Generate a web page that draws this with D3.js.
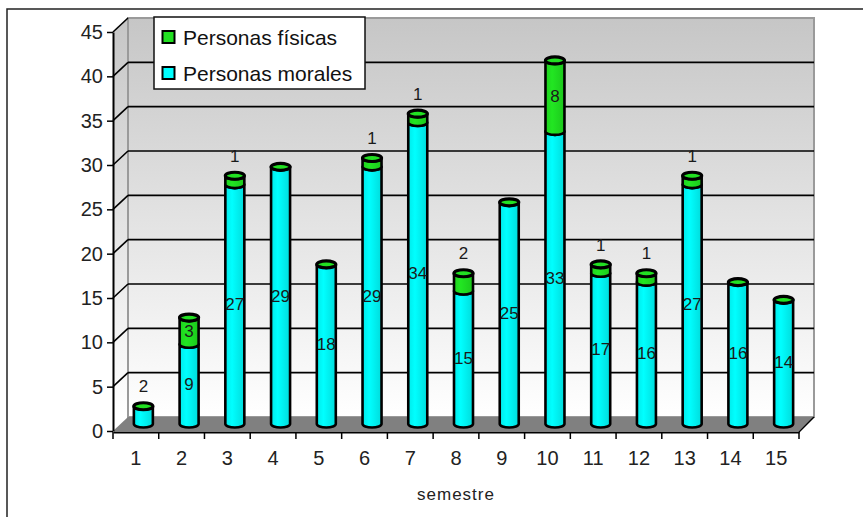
<!DOCTYPE html>
<html>
<head>
<meta charset="utf-8">
<script src="https://cdn.jsdelivr.net/npm/d3@7"></script>
<style>
  body { margin: 0; background: #fff; }
  svg { display: block; font-family: "Liberation Sans", Arial, sans-serif; }
</style>
</head>
<body>
<svg id="chart" width="863" height="517"></svg>
<script>
// Data per semester
const semestres = ["1","2","3","4","5","6","7","8","9","10","11","12","13","14","15"];
const personasMorales = [2, 9, 27, 29, 18, 29, 34, 15, 25, 33, 17, 16, 27, 16, 14];
const personasFisicas = [0, 3, 1, 0, 0, 1, 1, 2, 0, 8, 1, 1, 1, 0, 0];
const seriesNames = ["Personas físicas", "Personas morales"];
const yTicks = [0, 5, 10, 15, 20, 25, 30, 35, 40, 45];
const axisTitle = "semestre";

const colors = { fisicas: "#22e022", morales: "#00ffff" };

const svg = d3.select("#chart");

// 3D frame geometry
const front = { left: 113, right: 799, bottom: 431, top: 32 };
const depth = { dx: 15, dy: -14 };

const x = d3.scaleBand().domain(semestres).range([front.left, front.right]).paddingInner(0).paddingOuter(0);
const y = d3.scaleLinear().domain([0, 45]).range([front.bottom, front.top]);
const yBack = v => y(v) + depth.dy;
const yMid = v => y(v) + depth.dy / 2;

const defs = svg.append("defs");
const wallGrad = defs.append("linearGradient").attr("id", "wall")
  .attr("gradientUnits", "userSpaceOnUse")
  .attr("x1", 0).attr("y1", yBack(45)).attr("x2", 0).attr("y2", yBack(0));
wallGrad.append("stop").attr("offset", "0%").attr("stop-color", "#c6c6c6");
wallGrad.append("stop").attr("offset", "100%").attr("stop-color", "#ffffff");

function cylGrad(id, c0, c1, c2) {
  const g = defs.append("linearGradient").attr("id", id).attr("x1", 0).attr("x2", 1).attr("y1", 0).attr("y2", 0);
  g.append("stop").attr("offset", "0%").attr("stop-color", c0);
  g.append("stop").attr("offset", "35%").attr("stop-color", c1);
  g.append("stop").attr("offset", "100%").attr("stop-color", c2);
}
cylGrad("cyl-m", "#00eaea", "#00ffff", "#00dcdc");
cylGrad("cyl-f", "#1ed21e", "#22e622", "#1cc81c");

// Outer frame
svg.append("rect").attr("x", 7).attr("y", 9).attr("width", 900).attr("height", 600)
  .attr("fill", "none").attr("stroke", "#222").attr("stroke-width", 1.5);

const bx0 = front.left + depth.dx, bx1 = front.right + depth.dx;

// Side wall
svg.append("path")
  .attr("d", `M${front.left},${y(45)}L${bx0},${yBack(45)}L${bx0},${yBack(0)}L${front.left},${y(0)}Z`)
  .attr("fill", "url(#wall)");

// Back wall
svg.append("rect").attr("x", bx0).attr("y", yBack(45)).attr("width", bx1 - bx0).attr("height", yBack(0) - yBack(45))
  .attr("fill", "url(#wall)").attr("stroke", "#9a9a9a").attr("stroke-width", 2);

// Floor
svg.append("path")
  .attr("d", `M${front.left},${y(0)}L${bx0},${yBack(0)}L${bx1},${yBack(0)}L${front.right},${y(0)}Z`)
  .attr("fill", "#808080");

// Gridlines on back wall and side wall
const gridVals = yTicks.filter(v => v > 0);
svg.append("g").selectAll("line.grid").data(gridVals.filter(v => v < 45)).join("line")
  .attr("x1", bx0).attr("x2", bx1).attr("y1", d => yBack(d)).attr("y2", d => yBack(d))
  .attr("stroke", "#000").attr("stroke-width", 1.6);
svg.append("g").selectAll("line.side").data(gridVals).join("line")
  .attr("x1", front.left).attr("x2", bx0).attr("y1", d => y(d)).attr("y2", d => yBack(d))
  .attr("stroke", "#000").attr("stroke-width", 1.6);

// Stacked cylinders
const rx = 9.5, ry = 3.5;
const stacks = semestres.map((s, i) => {
  const m = personasMorales[i], f = personasFisicas[i];
  return {
    s, total: m + f,
    segs: [
      { key: "morales", lo: 0, hi: m, value: m },
      { key: "fisicas", lo: m, hi: m + f, value: f }
    ]
  };
});
const cx = s => x(s) + x.bandwidth() / 2 + depth.dx / 2;

const barG = svg.append("g");
stacks.forEach(st => {
  const c = cx(st.s);
  const g = barG.append("g");
  st.segs.forEach(seg => {
    if (seg.value <= 0) return;
    const yb = yMid(seg.lo), yt = yMid(seg.hi);
    g.append("path")
      .attr("d", `M${c - rx},${yt}L${c - rx},${yb}A${rx},${ry} 0 0 0 ${c + rx},${yb}L${c + rx},${yt}A${rx},${ry} 0 0 1 ${c - rx},${yt}Z`)
      .attr("fill", seg.key === "morales" ? "url(#cyl-m)" : "url(#cyl-f)")
      .attr("stroke", "#000").attr("stroke-width", 2.6).attr("stroke-linejoin", "round");
  });
  // top cap of the stack
  g.append("ellipse").attr("cx", c).attr("cy", yMid(st.total)).attr("rx", rx).attr("ry", ry)
    .attr("fill", colors.fisicas).attr("stroke", "#000").attr("stroke-width", 3.2);
});

// Value labels
const labelG = svg.append("g").attr("font-size", 17).attr("fill", "#1a1a1a").attr("text-anchor", "middle");
stacks.forEach(st => {
  st.segs.forEach(seg => {
    if (seg.value <= 0) return;
    const ly = seg.value >= 3 ? yMid((seg.lo + seg.hi) / 2) : yMid(st.total) - 20;
    labelG.append("text").attr("x", cx(st.s)).attr("y", ly).attr("dy", "0.36em").text(seg.value);
  });
});

// Y axis
const yAxis = svg.append("g").attr("transform", `translate(${front.left},0)`)
  .call(d3.axisLeft(y).tickValues(yTicks).tickSize(6).tickSizeOuter(0).tickPadding(4));
yAxis.select(".domain").attr("stroke", "#000").attr("stroke-width", 2);
yAxis.selectAll(".tick line").attr("stroke", "#000").attr("stroke-width", 1.5);
yAxis.selectAll(".tick text").attr("font-size", 20).attr("fill", "#222")
  .attr("font-family", "'Liberation Sans', Arial, sans-serif");

// X axis: labels at band centres, ticks at band boundaries
const xAxis = svg.append("g").attr("transform", `translate(0,${front.bottom + 1})`)
  .call(d3.axisBottom(x).tickSize(0).tickSizeOuter(0).tickPadding(19));
xAxis.select(".domain").attr("stroke", "#000").attr("stroke-width", 2);
xAxis.selectAll(".tick text").attr("font-size", 20).attr("fill", "#222")
  .attr("font-family", "'Liberation Sans', Arial, sans-serif");
const bounds = semestres.map(s => x(s)).concat([x(semestres[semestres.length - 1]) + x.bandwidth()]);
xAxis.selectAll("line.bound").data(bounds).join("line").attr("class", "bound")
  .attr("x1", d => d).attr("x2", d => d).attr("y1", 0).attr("y2", 7)
  .attr("stroke", "#000").attr("stroke-width", 1.5);
// right floor edge
svg.append("line").attr("x1", front.right).attr("y1", y(0) + 1).attr("x2", bx1).attr("y2", yBack(0))
  .attr("stroke", "#000").attr("stroke-width", 1.5);

// Axis title
svg.append("text").attr("x", 456).attr("y", 500).attr("text-anchor", "middle")
  .attr("font-size", 17).attr("letter-spacing", 1).attr("fill", "#222").text(axisTitle);

// Legend
const legend = svg.append("g").attr("transform", "translate(154,17)");
legend.append("rect").attr("width", 211).attr("height", 72).attr("fill", "#fff")
  .attr("stroke", "#111").attr("stroke-width", 1.5);
const legendColors = [colors.fisicas, colors.morales];
seriesNames.forEach((name, i) => {
  const row = legend.append("g").attr("transform", `translate(0,${14 + i * 36})`);
  row.append("rect").attr("x", 8.5).attr("y", 0).attr("width", 12).attr("height", 12)
    .attr("fill", legendColors[i]).attr("stroke", "#000").attr("stroke-width", 2);
  row.append("text").attr("x", 29).attr("y", 6).attr("dy", "0.36em")
    .attr("font-size", 21).attr("fill", "#111").text(name);
});
</script>
</body>
</html>
